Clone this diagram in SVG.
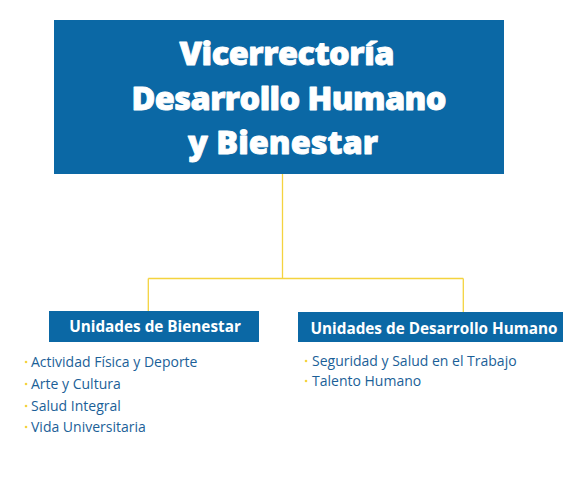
<svg xmlns="http://www.w3.org/2000/svg" width="580" height="477" viewBox="0 0 580 477">
<style>
.box{fill:#0b68a5}
.conn{fill:none;stroke:#f4d33f;stroke-width:1.3}
.title{font-family:"Open Sans",Lato,sans-serif;font-weight:800;fill:#fff;stroke:#fff;stroke-width:0.9px;stroke-linejoin:round;font-size:32.5px;text-anchor:middle}
.sub{font-family:"Open Sans",Lato,sans-serif;font-weight:700;fill:#fff;font-size:15.3px;text-anchor:middle}
.item{font-family:"Open Sans",Lato,sans-serif;fill:#1b5f98;font-size:14px}
.dot{fill:#f4d33f}
</style>
<rect width="580" height="477" fill="#fff"/>
<g id="connectors">
<path class="conn" d="M282.5 168V278.5M148.3 278.5H463.3M148.3 278.5V311M463.3 278.5V312"/>
</g>
<g id="vicerrectoria">
<rect class="box" x="54" y="20" width="450" height="154"/>
<text class="title" x="287" y="65" textLength="215" lengthAdjust="spacing">Vicerrectoría</text>
<text class="title" x="289" y="110" textLength="315" lengthAdjust="spacing">Desarrollo Humano</text>
<text class="title" x="283" y="154" textLength="190" lengthAdjust="spacing">y Bienestar</text>
</g>
<g id="bienestar">
<rect class="box" x="49" y="311" width="210" height="31"/>
<text class="sub" x="155" y="332">Unidades de Bienestar</text>
<circle class="dot" cx="26" cy="362" r="1.3"/>
<text class="item" x="31" y="367">Actividad Física y Deporte</text>
<circle class="dot" cx="26" cy="384" r="1.3"/>
<text class="item" x="31" y="389">Arte y Cultura</text>
<circle class="dot" cx="26" cy="406" r="1.3"/>
<text class="item" x="31" y="411">Salud Integral</text>
<circle class="dot" cx="26" cy="427" r="1.3"/>
<text class="item" x="31" y="432">Vida Universitaria</text>
</g>
<g id="desarrollo">
<rect class="box" x="298" y="312" width="265" height="30"/>
<text class="sub" x="434" y="334">Unidades de Desarrollo Humano</text>
<circle class="dot" cx="306" cy="361" r="1.3"/>
<text class="item" x="312" y="366">Seguridad y Salud en el Trabajo</text>
<circle class="dot" cx="306" cy="381" r="1.3"/>
<text class="item" x="312" y="386">Talento Humano</text>
</g>
</svg>
